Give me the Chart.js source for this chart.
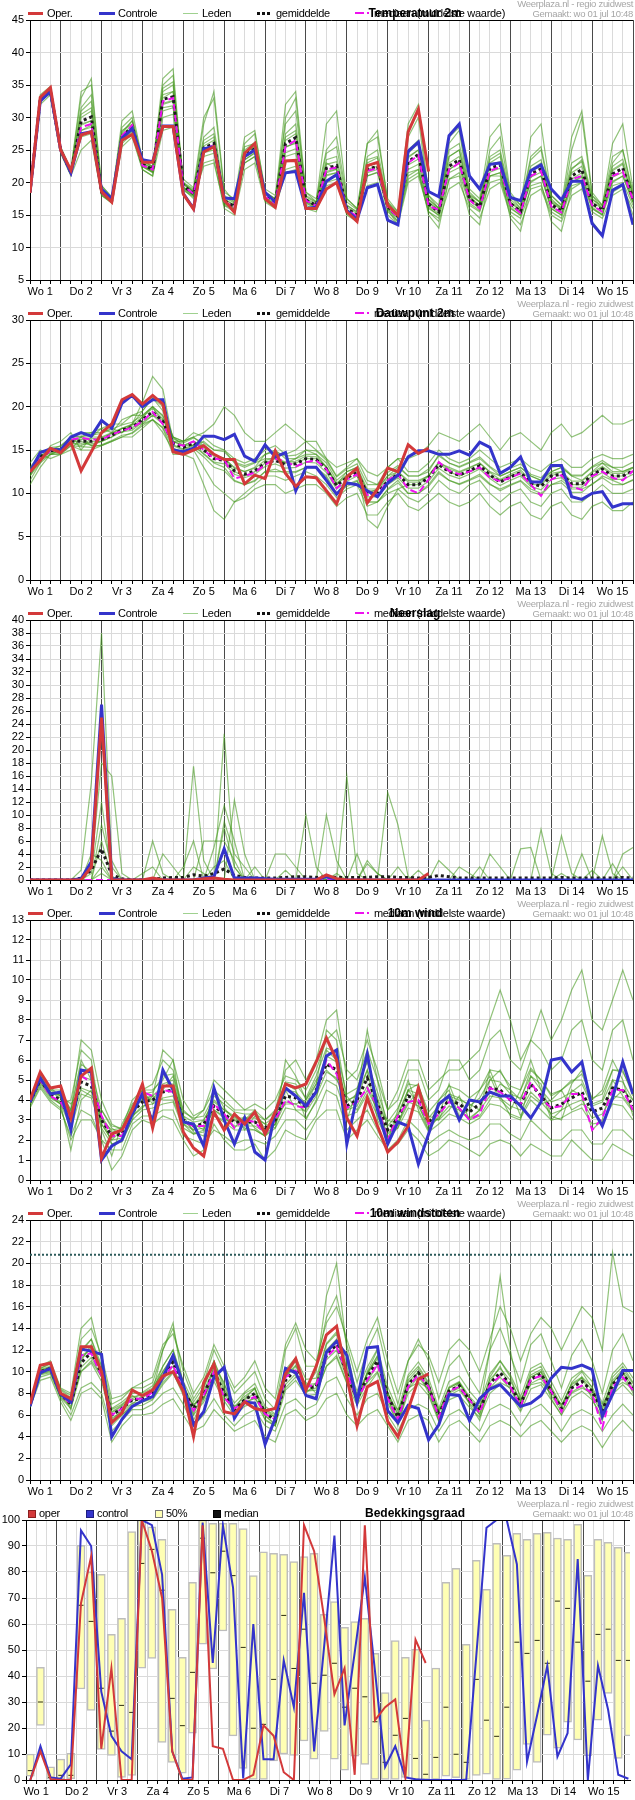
<!DOCTYPE html>
<html>
<head>
<meta charset="utf-8">
<title>Pluim zuidwest</title>
<script src="https://cdn.jsdelivr.net/npm/chart.js@4.4.1/dist/chart.umd.min.js"></script>
<style>
  body { margin: 0; background: #fff; font-family: "Liberation Sans", Arial, sans-serif; }
  .panel { position: relative; width: 635px; height: 300px; overflow: hidden; }
  .panel canvas { position: absolute; left: 0; top: 0; }
  .txt { position: absolute; top: 7px; font-size: 11px; line-height: 12px; letter-spacing: -0.3px; white-space: nowrap; color: #000; }
  .sym { position: absolute; }
  .box { position: absolute; top: 10px; width: 6px; height: 6px; }
  .site { position: absolute; right: 2px; font-size: 9.5px; line-height: 10px; letter-spacing: -0.3px; color: #a6a6a6; white-space: nowrap; }
  .title { position: absolute; top: 7px; left: 415px; transform: translateX(-50%); font-size: 12px; font-weight: bold; line-height: 13px; white-space: nowrap; color: #000; }
</style>
</head>
<body>
<div class="panel" id="p-temp"><canvas id="c-temp" width="635" height="300"></canvas></div>
<div class="panel" id="p-dew"><canvas id="c-dew" width="635" height="300"></canvas></div>
<div class="panel" id="p-precip"><canvas id="c-precip" width="635" height="300"></canvas></div>
<div class="panel" id="p-wind"><canvas id="c-wind" width="635" height="300"></canvas></div>
<div class="panel" id="p-gust"><canvas id="c-gust" width="635" height="300"></canvas></div>
<div class="panel" id="p-cloud"><canvas id="c-cloud" width="635" height="300"></canvas></div>
<script>
// time axis: every 6 hours from wo 1 06:00 to do 16 00:00
const hours = [];
for (let h = 6; h <= 360; h += 6) hours.push(h);

const dayLabels = ['Wo 1', 'Do 2', 'Vr 3', 'Za 4', 'Zo 5', 'Ma 6', 'Di 7', 'Wo 8', 'Do 9', 'Vr 10', 'Za 11', 'Zo 12', 'Ma 13', 'Di 14', 'Wo 15'];

const tempTicks = [5, 10, 15, 20, 25, 30, 35, 40, 45];
const dewTicks = [0, 5, 10, 15, 20, 25, 30];
const precipTicks = [0, 2, 4, 6, 8, 10, 12, 14, 16, 18, 20, 22, 24, 26, 28, 30, 32, 34, 36, 38, 40];
const windTicks = [0, 1, 2, 3, 4, 5, 6, 7, 8, 9, 10, 11, 12, 13];
const gustTicks = [0, 2, 4, 6, 8, 10, 12, 14, 16, 18, 20, 22, 24];
const cloudTicks = [0, 10, 20, 30, 40, 50, 60, 70, 80, 90, 100];

// Temperatuur 2m
const tempOper = [
  18.4, 33.1, 34.6, 25, 21.9, 27.3, 27.8, 18.6, 17, 26.5,
  27.4, 23.1, 23.1, 28.6, 28.6, 18.2, 15.9, 24.7, 25.5, 17.3,
  15.4, 24.5, 26, 17.5, 16.2, 23.3, 23.4, 16, 16, 19,
  20, 15.5, 14, 22.6, 23.1, 16.5, 15, 27.8, 31.3, 21.7];
const tempControl = [
  18.5, 32.5, 34, 25, 21.5, 27.5, 27.8, 19, 17.5, 26.8,
  28.3, 23.5, 23.2, 28.7, 28.7, 18.3, 16, 25.2, 25.5, 17.6,
  17.5, 24, 25, 18.5, 17, 21.5, 21.7, 16, 16.2, 20.2,
  21.2, 15.7, 14.3, 19.2, 19.7, 14.2, 13.5, 24.8, 26.2, 18.6,
  17.8, 27.2, 29, 21, 19, 22.8, 23, 17.7, 17.2, 21.8,
  22.7, 19, 17.3, 20.2, 20.2, 13.7, 11.8, 18.8, 19.7, 13.5];
const tempMean = [
  18.5, 32.8, 34, 25, 21.5, 29.4, 30.1, 18.5, 17.2, 27,
  28.6, 22.8, 22, 32.8, 33.2, 19.5, 18.3, 25.3, 26, 17.2,
  16.3, 24.2, 25.2, 18, 17, 26, 26.9, 17.3, 16.5, 22.2,
  22.6, 16, 15, 22, 22.5, 16.3, 14.8, 23.2, 24.3, 16.7,
  15.5, 22.5, 23.5, 17.5, 16.3, 22.2, 22.7, 16.8, 15.5, 21.3,
  22.1, 16.6, 15.6, 21, 22, 16.8, 15.7, 21.3, 22.2, 17.5];
const tempMedian = [
  18.5, 32.6, 34, 25, 21.4, 28.5, 29, 18.4, 17.2, 27.2,
  28.8, 22.6, 22, 32.5, 33, 19.4, 18.3, 25, 25.8, 17.1,
  16.2, 24, 25, 17.8, 16.8, 25.5, 26.5, 17.2, 16.4, 22,
  22.3, 15.8, 14.8, 21.8, 22.2, 16.2, 14.7, 23, 24.2, 16.4,
  15.8, 22, 23, 17.3, 16, 21.8, 22.4, 16.6, 15.3, 21,
  21.8, 16.3, 15.4, 20.5, 21, 16.5, 15.5, 21, 21.7, 17.3];
const tempMembers = [
  [18.5, 33.5, 34.8, 25.5, 22, 33, 36, 19.5, 17.8, 28.5,
   30, 23.5, 22.5, 36, 37.5, 20, 19, 27, 28.5, 18,
   17, 26, 27.5, 19, 18, 29, 31, 18.5, 17.5, 25,
   27, 17.5, 16, 24, 25, 17, 15.5, 25, 26.5, 18,
   16.5, 25, 26, 18.5, 17, 24, 25, 18, 16.5, 24,
   25.5, 18, 16.5, 23, 24, 18, 16.5, 24, 25, 18.5],
  [18.4, 32, 33.5, 24.5, 21, 25, 26.5, 18, 16.8, 25.5,
   27, 22, 21, 28, 28.5, 19, 17.5, 23, 23.5, 16,
   15, 22, 23, 17, 16, 21.5, 22, 16, 15.5, 19.5,
   20, 15, 14, 19.5, 20, 15, 13.5, 20, 21, 15.5,
   14, 19, 20, 16, 14.5, 19, 20, 15, 13.5, 18,
   19, 15, 14, 18, 19, 15.5, 14.5, 18, 19, 16],
  [18.6, 32.9, 34.2, 25.2, 21.7, 30.5, 31.5, 18.8, 17.5, 27.5,
   29.5, 23, 22.2, 34, 35, 20, 18.5, 29, 34, 19,
   17, 23, 24, 17.5, 16.5, 30, 33, 17.5, 16, 23,
   22, 16.5, 15.5, 26, 28, 17, 15, 21, 22, 16,
   15, 26, 28, 18, 16, 21, 21, 16, 15, 22,
   23, 17, 16, 25, 30, 18, 16, 20, 21, 17],
  [18.5, 32.5, 33.8, 24.8, 21.3, 28, 28.5, 18.2, 17, 26.5,
   28, 22.5, 21.5, 31, 31.5, 19.2, 18, 24, 24.5, 16.5,
   16, 25.5, 26, 18.5, 17.5, 24, 24.5, 17, 16.5, 21,
   21.5, 15.5, 14.5, 23.5, 24, 16, 14, 24, 25, 17,
   15.5, 22, 23, 17.5, 16.5, 23, 24, 17, 15.5, 20,
   21, 16, 15, 20, 21, 16, 15, 22, 23, 17],
  [18.5, 33, 34.3, 25.3, 21.8, 31.5, 33.5, 19, 17.6, 28,
   29, 22.8, 21.8, 35, 36.5, 19.8, 18.6, 26, 27, 17.5,
   16.5, 24.5, 25.5, 18.2, 17.2, 27.5, 29, 18, 17, 24.5,
   25.5, 17, 15.8, 22.5, 23, 16.5, 14.8, 27, 30, 17.5,
   16, 24, 25, 18, 17, 25, 27, 18, 16, 23.5,
   25, 17.5, 16, 22, 23.5, 17.5, 16, 23, 25, 18],
  [18.4, 32.6, 33.7, 24.7, 21.2, 27, 27.5, 18, 16.9, 26,
   27.5, 22, 21, 30, 30.5, 18.8, 17.8, 22.5, 23, 16.5,
   15.5, 23.5, 24.5, 17.5, 16.5, 22, 22.5, 16.5, 15.8, 20,
   20.5, 15.5, 14.5, 21, 21.5, 15.5, 14, 20.5, 21.5, 15.5,
   14.5, 20.5, 21.5, 16.5, 15.5, 20, 20.5, 15.5, 14.5, 19,
   19.5, 15.5, 14.5, 19.5, 20, 16, 15, 19.5, 20, 16.5],
  [18.5, 33.2, 34.5, 25.4, 21.9, 34, 35, 19.5, 17.7, 29.5,
   31, 23.5, 22.3, 33, 34, 20.5, 19.2, 30, 33, 18.5,
   17.5, 27, 28, 18.5, 17.5, 32, 34, 18.5, 17, 29,
   31, 17.5, 16, 26, 27, 17.5, 15.5, 29, 32, 18,
   16, 27, 28.5, 19, 17.5, 27, 29, 18.5, 16.5, 27,
   29, 18, 16.5, 27, 31, 18.5, 16.5, 26, 29, 19],
  [18.5, 32.7, 33.9, 24.9, 21.4, 29, 29.5, 18.4, 17.1, 27,
   28.5, 22.6, 21.6, 32, 32.5, 19.3, 18.1, 25, 25.5, 16.8,
   15.8, 23, 24, 17.2, 16.2, 25.5, 26, 16.8, 16, 21.5,
   22, 15.2, 14.2, 22, 22.5, 15.8, 13.5, 21.5, 22, 15,
   13, 20.5, 21, 15, 13.5, 21, 21.5, 14.5, 12.5, 19.5,
   20, 14, 12.5, 19, 20, 14, 12, 18.5, 19.5, 15],
  [18.5, 32.9, 34.1, 25.1, 21.6, 30, 31, 18.7, 17.3, 27.3,
   28.9, 23, 22.1, 33.5, 34, 19.7, 18.5, 25.6, 26.5, 17.4,
   16.5, 24.5, 25.6, 18.2, 17.2, 26.5, 27.5, 17.5, 16.7, 22.8,
   23.2, 16.2, 15.2, 22.5, 23, 16.5, 15, 23.8, 25, 17,
   15.8, 23, 24, 17.8, 16.5, 22.8, 23.2, 17, 15.8, 21.8,
   22.6, 16.9, 15.8, 21.5, 22.5, 17, 16, 21.8, 22.8, 17.8],
  [18.5, 32.7, 33.9, 24.9, 21.4, 28.8, 29.5, 18.3, 17.1, 26.7,
   28.3, 22.6, 21.8, 32.2, 32.6, 19.3, 18.1, 25, 25.6, 17,
   16.1, 23.9, 24.8, 17.8, 16.8, 25.4, 26.2, 17.1, 16.3, 21.7,
   22.1, 15.8, 14.8, 21.5, 22, 16.1, 14.6, 22.7, 23.6, 16.4,
   15.2, 22, 23, 17.2, 16, 21.6, 22.2, 16.5, 15.2, 20.8,
   21.6, 16.3, 15.3, 20.5, 21.5, 16.5, 15.4, 20.8, 21.6, 17.2],
  [18.6, 33, 34.4, 25.2, 21.7, 31, 32.5, 19, 17.4, 27.8,
   29.5, 23.2, 22.4, 34.5, 35.5, 19.8, 18.8, 26.5, 27.5, 17.8,
   16.8, 25, 26.2, 18.5, 17.4, 27, 28, 17.8, 16.9, 23.5,
   24, 16.5, 15.4, 23, 23.8, 16.8, 15.2, 24.5, 26, 17.3,
   16, 24, 25, 18.2, 17, 23.5, 24.5, 17.4, 16, 22.5,
   23.5, 17.2, 16.2, 22.2, 23.2, 17.4, 16.4, 22.5, 23.6, 18.2],
  [18.4, 32.6, 33.8, 24.8, 21.3, 28, 28.8, 18.2, 17, 26.4,
   27.8, 22.4, 21.6, 31.5, 31.8, 19.1, 17.9, 24.6, 25, 16.8,
   15.9, 23.5, 24.6, 17.6, 16.6, 24.6, 25.2, 16.9, 16.1, 21.2,
   21.5, 15.6, 14.6, 21, 21.6, 15.9, 14.4, 22, 22.8, 16.2,
   14.9, 21.5, 22.3, 16.8, 15.7, 21, 21.5, 16.2, 14.9, 20.2,
   21, 16, 15, 20, 20.8, 16.2, 15.1, 20.2, 21, 16.9]];

// Dauwpunt 2m
const dewOper = [
  12.5, 13.8, 15.2, 14.7, 15.9, 12.6, 14.8, 17, 18, 20.8,
  21.4, 20.3, 21.3, 20.3, 14.8, 14.5, 15, 15.5, 14.5, 13.9,
  13.9, 11.1, 12.1, 11.7, 14.9, 12.3, 10.8, 11.9, 11.8, 10.3,
  8.8, 11.9, 12.9, 8.9, 10.5, 12.9, 12.5, 15.6, 14.6, 15.2];
const dewControl = [
  12.5, 14.7, 15.1, 15, 16.5, 17, 16.6, 18.4, 17.5, 20.4,
  21.3, 20, 20.8, 20.8, 15, 14.8, 15.2, 16.6, 16.6, 16.2,
  16.8, 14.3, 13.7, 15.6, 14.2, 14.7, 10.3, 13, 13, 11.5,
  9.9, 11.2, 11, 10.3, 9.6, 11.2, 12.1, 14.2, 14.9, 14.9,
  14.5, 14.5, 14.9, 14.4, 15.9, 15.3, 12.3, 13, 14.2, 11.3,
  11.3, 13.2, 13.2, 9.6, 9.3, 10, 10.2, 8.4, 8.8, 8.8];
const dewMean = [
  12.5, 14.2, 14.9, 15, 16, 16, 16, 16.2, 16.7, 17.3,
  17.6, 18.5, 19.4, 18.3, 15.8, 15.3, 15.8, 15, 14, 13.8,
  12.6, 12.2, 12.6, 13.5, 13.8, 13.3, 13.4, 14, 13.9, 12.8,
  10.9, 11.8, 12.4, 10, 10, 11.4, 12.2, 11, 11, 11.8,
  13.3, 12.5, 12.1, 12.6, 13.2, 12.1, 11.3, 11.9, 12.4, 11.2,
  10.8, 12, 12.2, 11.1, 11.1, 12.1, 12.8, 12, 12, 12.6];
const dewMedian = [
  12.5, 14, 14.9, 15, 16.2, 16.4, 16.2, 16.2, 16.8, 17.2,
  17.6, 18.3, 19.4, 18, 15.8, 15.5, 16, 15, 14, 13.9,
  11.7, 12, 12.4, 13.3, 14, 13.7, 13.1, 13.6, 13.8, 12.8,
  10.6, 11.6, 12.2, 9.8, 9.8, 11.5, 12.2, 10.5, 10, 11.6,
  13.6, 12.6, 12.2, 12.5, 13, 11.8, 11.4, 11.8, 12.3, 11,
  9.7, 11.6, 12.1, 10.8, 10.4, 12, 12.5, 11.8, 11.5, 12.6];
const dewMembers = [
  [11.5, 13.5, 15.5, 16, 17, 15, 16.5, 17.5, 17, 18.5,
   19, 19.5, 21, 20, 16.5, 16, 17, 16.5, 15.5, 15,
   14, 13.5, 14, 15, 15.5, 14.5, 15, 16, 16, 14,
   12, 13, 14, 11.5, 11, 13, 14, 12.5, 12.5, 13.5,
   15, 14, 13.5, 14, 15, 14, 13, 13.5, 14, 13,
   12.5, 13.5, 14, 13, 13, 14, 14.5, 14, 14, 14.5],
  [13, 14.5, 14, 14.5, 15, 16.5, 15.5, 15.5, 16, 16.5,
   16.5, 17.5, 18.5, 17, 15, 14.5, 14, 11, 8, 7,
   9, 10, 11, 12, 12, 11.5, 12, 12.5, 12, 11,
   9.5, 10.5, 11, 8.5, 9, 10, 10.5, 9.5, 9, 10,
   11.5, 10.5, 10, 11, 11.5, 10, 9, 10, 10.5, 9,
   8.5, 10, 10.5, 9, 9, 10, 11, 10, 10, 10.5],
  [12, 14, 15, 15.5, 16.5, 17, 17, 17.5, 18, 18,
   19, 19, 20, 19, 16, 16, 16.5, 15.5, 14.5, 14,
   13, 12.5, 13, 14.5, 15, 14, 14, 15, 14.5, 13.5,
   11.5, 12.5, 13, 10.5, 10.5, 12, 13, 12, 12, 12.5,
   14.5, 13.5, 13, 13.5, 14, 13, 12, 12.5, 13, 12,
   11.5, 12.5, 13, 12, 11.5, 12.5, 13.5, 13, 12.5, 13],
  [12.5, 14.3, 15, 14.8, 15.8, 15.5, 16, 16, 16.5, 17.5,
   17.5, 18.8, 20, 18, 15.5, 15, 15.5, 14.5, 13.5, 13,
   11.5, 11, 11.5, 12.5, 12.5, 12.5, 12.5, 13, 13, 12,
   10, 11, 11.5, 9, 9, 10.5, 11.5, 10, 10, 11,
   12.5, 11.5, 11, 11.5, 12, 11, 10.5, 11, 11.5, 10.5,
   10, 11, 11.5, 10.5, 10.5, 11, 12, 11.5, 11, 11.5],
  [13.5, 15, 14.5, 15, 16, 16, 15.5, 16, 17, 17,
   18, 18, 19, 18.5, 16.5, 15.5, 15.5, 16, 15, 15,
   13.5, 13, 13.5, 14, 14, 13.5, 14, 14.5, 14.5, 13,
   11, 12.5, 13, 10, 10.5, 12, 12.5, 11.5, 11.5, 12,
   13.5, 13, 12.5, 13, 13.5, 12.5, 12, 12.5, 13, 12,
   11.5, 12.5, 13, 12, 12, 13, 13.5, 12.5, 12.5, 13],
  [12, 13.5, 14.5, 15, 16.5, 16.5, 17, 17, 17.5, 17,
   18, 19.5, 21, 19.5, 16.5, 16, 16.5, 17, 18, 20,
   19, 17, 16, 16, 17, 18, 17, 16, 15, 14,
   13, 13.5, 14, 12.5, 12, 13, 14, 14, 14.5, 15.5,
   17, 16.5, 16, 17, 18, 16.5, 15, 16.5, 17, 16,
   15, 17, 18, 16.5, 17, 18, 19, 18, 18, 18.5],
  [11, 13, 14.5, 14.5, 15.5, 15, 15, 15.5, 16, 16.5,
   17, 18, 18.5, 17.5, 14.5, 14.5, 15, 13, 11, 10,
   9, 9.5, 10.5, 11, 11, 10, 10.5, 11, 11, 10,
   8.5, 9.5, 10, 7.5, 7.5, 9, 10, 8.5, 8, 9,
   10, 9, 8.5, 9, 10, 8.5, 7.5, 8.5, 9, 7.5,
   7, 8.5, 9, 7.5, 7, 8.5, 9, 8, 8, 9],
  [12.5, 14, 15, 15.2, 16, 16.5, 16.5, 16.5, 17, 17.5,
   18, 20.5, 23.5, 22, 16, 15.5, 16, 15.5, 14.5, 14,
   12.5, 12, 12.5, 13.5, 14, 13.5, 13.5, 14, 14, 13,
   11, 12, 12.5, 7, 6, 8.5, 10.5, 11, 11, 12,
   13.5, 12.5, 12, 12.5, 13, 12, 11.5, 12, 12.5, 11,
   11, 12, 12.5, 11, 11, 12, 13, 12, 12, 12.5],
  [12.6, 14.3, 15, 15.1, 16.2, 16.2, 16.3, 16.4, 16.9, 17.5,
   17.9, 18.8, 19.8, 18.6, 16, 15.5, 16, 15.3, 14.3, 14.1,
   12.9, 12.5, 12.9, 13.8, 14.1, 13.6, 13.7, 14.3, 14.2, 13.1,
   11.2, 12.1, 12.7, 10.3, 10.3, 11.7, 12.5, 11.3, 11.3, 12.1,
   13.6, 12.8, 12.4, 12.9, 13.5, 12.4, 11.6, 12.2, 12.7, 11.5,
   11.1, 12.3, 12.5, 11.4, 11.4, 12.4, 13.1, 12.3, 12.3, 12.9],
  [12.4, 14, 14.7, 14.8, 15.8, 15.7, 15.7, 16, 16.5, 17.1,
   17.3, 18.2, 19, 18, 15.6, 15.1, 15.6, 14.6, 13.6, 13.4,
   12.2, 11.8, 12.2, 13.1, 13.4, 12.9, 13, 13.6, 13.5, 12.4,
   10.5, 11.4, 12, 9.6, 9.6, 11, 11.8, 10.6, 10.6, 11.4,
   12.9, 12.1, 11.7, 12.2, 12.8, 11.7, 10.9, 11.5, 12, 10.8,
   10.4, 11.6, 11.8, 10.7, 10.7, 11.7, 12.4, 11.6, 11.6, 12.2],
  [12.8, 14.6, 15.3, 15.4, 16.5, 16.6, 16.7, 16.9, 17.4, 17.9,
   18.2, 19, 20, 18.9, 16.3, 15.8, 16.4, 15.8, 15, 14.8,
   13.6, 13.2, 13.6, 14.5, 14.8, 14.3, 14.4, 15, 14.9, 13.8,
   11.9, 12.8, 13.4, 11, 11, 12.4, 13.2, 12, 12, 12.8,
   14.3, 13.5, 13.1, 13.6, 14.2, 13.1, 12.3, 12.9, 13.4, 12.2,
   11.8, 13, 13.2, 12.1, 12.1, 13.1, 13.8, 13, 13, 13.6],
  [12.2, 13.8, 14.5, 14.6, 15.5, 15.4, 15.3, 15.6, 16.1, 16.7,
   16.9, 17.8, 18.5, 17.6, 15.2, 14.8, 15.2, 14.2, 13, 12.6,
   11.4, 11, 11.4, 12.5, 12.8, 12.3, 12.4, 13, 12.9, 11.8,
   9.9, 10.8, 11.4, 9, 9, 10.4, 11.2, 10, 10, 10.8,
   12.3, 11.5, 11.1, 11.6, 12.2, 11.1, 10.3, 10.9, 11.4, 10.2,
   9.8, 11, 11.2, 10.1, 10.1, 11.1, 11.8, 11, 11, 11.6]];

// Neerslag
const precipOper = [
  0, 0, 0, 0, 0, 0, 2, 25, 0, 0,
  0, 0, 0.3, 0, 0, 0, 0, 0.2, 0.3, 0.1,
  0, 0, 0, 0, 0, 0, 0, 0, 0, 0.8,
  0.2, 0, 0, 0, 0, 0, 0, 0, 0, 1];
const precipControl = [
  0, 0, 0, 0, 0, 0.2, 2.8, 27, 0.2, 0,
  0, 0, 0, 0, 0, 0, 0, 0.3, 0.5, 4.8,
  0.3, 0.3, 0.3, 0.2, 0.1, 0.1, 0.1, 0.1, 0.1, 0.5,
  0.1, 0, 0, 0, 0, 0, 0, 0, 0, 0,
  0, 0, 0, 0, 0, 0, 0, 0, 0, 0,
  0, 0, 0, 0, 0, 0, 0, 0, 0, 0];
const precipMean = [
  0, 0, 0, 0, 0, 0.3, 1.5, 4.8, 0.8, 0.2,
  0, 0, 0.1, 0.3, 0.4, 0.4, 0.8, 0.6, 1, 1.7,
  0.7, 0.4, 0.3, 0.3, 0.3, 0.4, 0.5, 0.5, 0.4, 0.5,
  0.4, 0.4, 0.4, 0.4, 0.5, 0.5, 0.4, 0.4, 0.3, 0.4,
  0.7, 0.5, 0.3, 0.3, 0.3, 0.3, 0.3, 0.3, 0.3, 0.3,
  0.3, 0.3, 0.4, 0.3, 0.3, 0.3, 0.3, 0.3, 0.4, 0.3];
const precipMedian = [
  0, 0, 0, 0, 0, 0, 0, 0, 0, 0,
  0, 0, 0, 0, 0, 0, 0, 0, 0, 0,
  0, 0, 0, 0, 0, 0, 0, 0, 0, 0,
  0, 0, 0, 0, 0, 0, 0, 0, 0, 0,
  0, 0, 0, 0, 0, 0, 0, 0, 0, 0,
  0, 0, 0, 0, 0, 0, 0, 0, 0, 0];
const precipMembers = [
  [0, 0, 0, 0, 0, 1.5, 15, 38, 3, 0,
   0, 0, 0, 0, 0, 0, 2, 1, 0, 0,
   0, 0, 0, 0, 0, 0, 0, 0, 0, 0,
   0, 0, 0, 0, 0, 0, 0, 0, 0, 0,
   0, 0, 0, 0, 0, 0, 0, 0, 0, 0,
   0, 0, 0, 0, 0, 0, 0, 0, 0, 0],
  [0, 0, 0, 0, 0, 0, 2, 18, 16, 1,
   0, 0, 6, 1, 0, 0, 0, 0, 0, 22.5,
   2, 0, 0, 0, 0, 0, 0, 0, 0, 0,
   0, 16, 1, 0, 0, 0, 0, 0, 0, 0,
   0, 0, 0, 0, 0, 0, 0, 0, 0, 0,
   7.8, 1, 0, 0, 0, 0, 0, 0, 0, 0],
  [0, 0, 0, 0, 0, 0, 0, 8.5, 2, 0,
   0, 0, 0, 0, 0, 0, 17.5, 3, 0, 0,
   12.3, 4, 0, 0, 0, 0, 0, 0, 0, 0,
   0, 0, 0, 0, 0, 13.5, 8.5, 0.5, 0, 0,
   0, 0, 0, 0, 0, 0, 0, 0, 0, 0,
   0, 0, 6.8, 1, 0, 0, 0, 0, 0, 0],
  [0, 0, 0, 0, 0, 0, 1, 12, 0.5, 0,
   0, 0, 0, 4, 2, 0, 0, 0, 5, 11.5,
   6, 0, 0, 0, 0, 0, 0, 0, 0, 10,
   3, 0, 0, 0, 0, 0, 0, 0, 0, 0,
   3, 1.5, 0, 0, 0, 0, 0, 0, 0, 0,
   0, 0, 0, 0, 0, 0, 0, 0, 4, 5],
  [0, 0, 0, 0, 0, 0, 0, 6, 0.5, 0,
   0, 0, 0, 0, 0, 2, 6, 0, 0, 9,
   4, 2, 0, 0, 0, 0, 0, 10, 2, 0,
   0, 0, 0, 2.5, 1, 0, 0, 0, 0, 0,
   0, 0, 0, 0, 0, 4, 2, 0, 0, 0,
   0, 0, 0, 0, 0, 0, 6.8, 1, 0, 0],
  [0, 0, 0, 0, 0, 0, 0, 2, 0, 0,
   0, 1, 2, 0, 0, 0, 0, 6, 6, 6,
   3, 0, 0, 0, 4, 4, 2, 0, 0, 0,
   0, 0, 0, 0, 0, 0, 2, 0, 1.5, 0,
   0, 0, 0, 0, 0, 0, 0, 0, 4.8, 5,
   0, 0, 0, 0, 4, 0, 0, 0, 0, 0],
  [0, 0, 0, 0, 0, 0, 0, 1, 0, 0,
   0, 0, 0, 0, 0, 0, 0, 0, 2, 3,
   0, 0, 2, 0, 0, 0, 0, 0, 0, 0,
   1, 0, 4, 0, 0, 0, 0, 0, 0, 0,
   0, 0, 2, 1, 0, 0, 0, 0, 0, 0,
   0, 0, 0, 0, 0, 1.5, 0, 2.5, 0, 0],
  [0, 0, 0, 0, 0, 0, 4, 3, 0, 0,
   0, 0, 0, 0, 0, 0, 0, 0, 0, 8,
   2, 0, 0, 0, 0, 1.5, 0, 0, 0, 0,
   0, 0, 0, 3, 1, 0, 0, 0, 0, 0,
   0, 0, 0, 0, 2, 0, 0, 0, 0, 0,
   0, 0, 1, 0, 0, 0, 0, 0, 2, 0]];

// 10m wind
const windOper = [
  4, 5.4, 4.6, 4.7, 3.1, 5.2, 5.6, 1.1, 2.3, 2.5,
  3.5, 4.8, 2.6, 4.7, 4.7, 2.4, 1.6, 1.2, 3.4, 2.5,
  3.3, 2.8, 3.4, 2.3, 3.4, 4.8, 4.6, 4.8, 5.9, 7.1,
  6, 3.1, 2.2, 4.1, 2.7, 1.4, 1.9, 2.7, 4.6, 2.9];
const windControl = [
  3.9, 5.1, 4.3, 4.4, 2.5, 5.5, 5.4, 1, 1.7, 2,
  3.3, 4.3, 2.9, 5.5, 4.5, 2.9, 2.8, 1.7, 4.6, 3,
  1.8, 3.1, 1.4, 1, 3.4, 4.6, 4.2, 3.7, 4.4, 6.2,
  6.5, 1.8, 4.2, 6.3, 3.5, 1.8, 2.9, 2.7, 0.8, 2.3,
  3.8, 4.2, 3, 4, 3.9, 4.4, 4.2, 4.2, 3.7, 3.1,
  3.9, 6, 6.1, 5.4, 5.9, 3.6, 2.7, 4.1, 5.9, 4.3];
const windMean = [
  3.9, 5, 4.3, 4, 3, 4.9, 4.7, 3, 2.2, 2.3,
  3.4, 3.9, 4, 4.4, 4.5, 3, 2.7, 2.8, 3.7, 3.3,
  2.9, 2.9, 2.9, 2.6, 3, 4.2, 4.1, 3.6, 4.5, 5.8,
  5.5, 3.7, 4, 5.1, 3.8, 2.5, 3.1, 4.2, 4, 2.9,
  3.4, 4, 3.8, 3.4, 3.8, 4.6, 4.5, 4, 3.8, 4.8,
  4.2, 3.6, 3.8, 4.1, 4.4, 3.4, 3.6, 4.6, 4.5, 3.7];
const windMedian = [
  3.9, 5, 4.2, 3.9, 3, 5.2, 4.9, 3.2, 2.2, 2.2,
  3.5, 4.4, 4.2, 4.5, 4.4, 2.9, 2.7, 2.7, 3.8, 3.3,
  2.6, 3, 2.9, 2.3, 3, 4, 3.7, 3.6, 4.4, 6,
  5.3, 3.6, 3.9, 4.6, 3.7, 2, 3.2, 3.9, 4, 2.8,
  3.3, 3.9, 3.6, 3, 3.3, 4.6, 4.4, 4, 3.8, 4.9,
  4.1, 3.6, 3.7, 4.3, 4.3, 2.5, 3.1, 4.5, 4.5, 3.5];
const windMembers = [
  [4, 5.3, 4.5, 4.5, 3.5, 7, 6.5, 4, 2.8, 2.5,
   3.5, 4.5, 4.8, 6, 5.5, 3.5, 3, 3.5, 5, 4.5,
   4, 3.5, 3.5, 3, 3.5, 5.5, 6, 5, 6, 8,
   8.5, 5, 5.5, 7, 5.5, 3.5, 4, 5.5, 5.5, 4,
   4.5, 6, 6, 5, 5.5, 7, 7.5, 6, 5.5, 7,
   6.5, 5.5, 6, 7.5, 8, 6, 5.5, 7.5, 8, 6],
  [3.7, 4.7, 4, 3.6, 2, 3, 3, 2, 1.5, 1.5,
   2.8, 3.2, 3.2, 3.5, 3.5, 2.2, 2, 1.8, 2.5, 2.2,
   1.8, 2, 2, 1.8, 2.2, 3, 3, 2.5, 3.2, 4.5,
   4.2, 2.5, 3, 3.5, 2.5, 1.5, 2, 3, 2.5, 1.8,
   2.2, 2.5, 2.2, 2, 2.2, 2.8, 2.8, 2.3, 2, 3,
   2.5, 2, 2, 2.5, 2.5, 1.8, 1.8, 2.5, 2.5, 2],
  [3.9, 5.1, 4.4, 4.2, 2.5, 5.5, 5.5, 2.5, 1.2, 2.8,
   3.8, 4.2, 4, 4.8, 5, 3, 2.5, 3, 4, 3.5,
   3.2, 2.5, 3.2, 2.8, 2.6, 4.8, 4.5, 3, 4, 6.5,
   6, 3, 4.5, 6, 4, 2, 3.5, 5, 3.5, 2.5,
   4, 4.5, 3.2, 3.5, 4.5, 5.2, 4, 3.5, 4.5, 6,
   4.5, 3, 3.5, 4.8, 5.5, 4, 4.5, 6, 5, 3.2],
  [4.1, 5.2, 4.6, 4.2, 3.8, 4.5, 4.2, 3.5, 2.6, 2.2,
   3.2, 3.6, 4.2, 4, 4, 2.8, 2.8, 2.5, 3.5, 3.2,
   2.6, 3.2, 2.6, 2.2, 3.2, 3.8, 3.8, 4, 5, 5.5,
   5, 4.2, 3.5, 4.5, 3.5, 3, 2.8, 3.8, 4.5, 3.2,
   3, 3.5, 4.2, 3, 3.2, 4, 4.8, 4.5, 3.2, 4.2,
   3.8, 4, 4.5, 3.5, 3.8, 3.5, 2.8, 4, 4.5, 4],
  [3.8, 4.9, 4.2, 3.8, 1.5, 4, 4.5, 3.2, 1.8, 2,
   3, 4.5, 3.8, 4.5, 5.2, 3.2, 2.4, 2.2, 3.2, 3,
   3, 3, 3.5, 2.5, 2.8, 4.5, 3.5, 3.5, 4.5, 6.2,
   6.5, 3.5, 4, 5.5, 3, 2, 3.2, 4.5, 3.8, 2.5,
   3.2, 4.8, 3.5, 3, 3.5, 5.5, 4.2, 3.2, 3, 5.2,
   4.8, 3.2, 3, 4.5, 4.2, 2.5, 3, 5, 4.2, 3.5],
  [4, 5, 4.3, 4.3, 3.5, 6, 5, 3, 2.5, 2.6,
   4, 4.5, 4.5, 5, 6, 4, 3.2, 3.5, 4.5, 4,
   3.5, 3.5, 3.8, 3.5, 4, 5.2, 5, 4.5, 5.5, 7,
   7.5, 5.5, 5, 6.5, 5, 3.5, 4.5, 6, 6, 4.5,
   5, 5.5, 5.5, 6, 6.5, 8, 9.5, 8, 6, 7,
   8.5, 7, 8, 9.5, 10.5, 8, 7.5, 9, 10.5, 9],
  [3.6, 4.6, 3.9, 3.5, 2.2, 3.5, 3.2, 2, 0.5, 1.2,
   2.5, 3, 2.8, 3.2, 3, 2, 1.2, 1.5, 2.8, 2,
   1.5, 1.5, 1.8, 1, 1.5, 2.5, 2.2, 2, 3, 3.5,
   3.5, 2, 2.5, 3, 2.2, 1.5, 1.8, 2.5, 2, 1.2,
   1.5, 2, 1.8, 1.5, 1.2, 1.8, 2, 1.8, 1.2, 1.8,
   1.5, 1.2, 1.2, 2, 1.5, 1, 1, 1.8, 1.5, 1.2],
  [3.9, 5.2, 4.2, 3.8, 4, 6.5, 6, 2.8, 2, 2.5,
   3.6, 4, 4.2, 6.5, 6, 2.8, 2.3, 2.5, 4.5, 3.6,
   3, 2.6, 2.5, 2.2, 2.8, 6, 5.2, 4, 4.8, 7.5,
   7, 4, 4.2, 7.5, 5, 2.5, 2.6, 4.5, 4.8, 3,
   3, 4.2, 4, 3.8, 3.5, 5, 5.5, 4.5, 4, 5.5,
   5, 4.2, 4.5, 5, 5, 3.8, 4, 5.5, 5.5, 4.2],
  [3.9, 5.1, 4.4, 4.1, 3.2, 5.2, 5, 3.2, 2.4, 2.5,
   3.6, 4.1, 4.2, 4.7, 4.8, 3.2, 2.9, 3, 3.9, 3.5,
   3.1, 3.1, 3.1, 2.8, 3.2, 4.5, 4.4, 3.8, 4.8, 6.2,
   5.9, 3.9, 4.3, 5.5, 4.1, 2.7, 3.3, 4.5, 4.3, 3.1,
   3.7, 4.3, 4.1, 3.7, 4.1, 5, 4.9, 4.3, 4.1, 5.2,
   4.5, 3.9, 4.1, 4.4, 4.8, 3.7, 3.9, 5, 4.9, 4],
  [3.8, 4.9, 4.2, 3.9, 2.8, 4.6, 4.4, 2.8, 2, 2.1,
   3.2, 3.7, 3.8, 4.1, 4.2, 2.8, 2.5, 2.6, 3.5, 3.1,
   2.7, 2.7, 2.7, 2.4, 2.8, 3.9, 3.8, 3.4, 4.2, 5.4,
   5.1, 3.5, 3.7, 4.7, 3.5, 2.3, 2.9, 3.9, 3.7, 2.7,
   3.1, 3.7, 3.5, 3.1, 3.5, 4.2, 4.1, 3.7, 3.5, 4.4,
   3.9, 3.3, 3.5, 3.8, 4, 3.1, 3.3, 4.2, 4.1, 3.4],
  [4, 5.1, 4.5, 4.2, 3.4, 5.8, 5.4, 3.5, 2.7, 2.6,
   3.7, 4.3, 4.4, 5.2, 5.3, 3.4, 3.1, 3.2, 4.2, 3.8,
   3.4, 3.3, 3.3, 3, 3.4, 4.9, 4.8, 4.1, 5.2, 6.6,
   6.4, 4.3, 4.6, 5.9, 4.4, 2.9, 3.6, 4.8, 4.7, 3.4,
   4, 4.7, 4.5, 4.1, 4.5, 5.5, 5.4, 4.7, 4.5, 5.6,
   5, 4.3, 4.5, 4.9, 5.3, 4.1, 4.3, 5.5, 5.4, 4.4],
  [3.8, 4.8, 4.1, 3.8, 2.6, 4.3, 4.1, 2.6, 1.8, 1.9,
   3, 3.5, 3.6, 3.8, 3.9, 2.6, 2.3, 2.4, 3.2, 2.9,
   2.5, 2.5, 2.5, 2.2, 2.6, 3.6, 3.5, 3.1, 3.9, 5,
   4.7, 3.2, 3.4, 4.3, 3.2, 2.1, 2.6, 3.6, 3.4, 2.4,
   2.8, 3.3, 3.1, 2.8, 3.1, 3.8, 3.7, 3.3, 3.1, 4,
   3.5, 3, 3.1, 3.4, 3.6, 2.8, 2.9, 3.8, 3.7, 3]];

// 10m windstoten
const gustLimit = 20.8;
const gustOper = [
  7, 10.6, 10.8, 8, 7.5, 12.3, 12.3, 10, 5.3, 6.2,
  8.3, 7.8, 8.3, 9.6, 10, 8.2, 4, 9, 10.7, 6.3,
  6.1, 7.2, 6.6, 6.4, 6.6, 9.8, 11.2, 8.3, 10.5, 13.4,
  14.2, 9.5, 5, 8.6, 9.1, 5.4, 4, 6.5, 9.3, 9.8];
const gustControl = [
  6.8, 9.9, 10.3, 7.9, 7.2, 12.1, 11.9, 11.6, 4, 5.6,
  6.8, 7.3, 7.7, 9.5, 11.5, 8.8, 5.1, 6.3, 9.5, 10.4,
  5.7, 7.2, 7.1, 3.3, 5.7, 10.3, 9.9, 7.8, 7.5, 11.8,
  12.8, 11.5, 7.2, 12.2, 12.3, 6.4, 5.3, 6.9, 6.6, 3.7,
  5.1, 7.9, 7.8, 5.5, 7.5, 8.4, 8.8, 7.8, 6.8, 7.1,
  7.8, 9.4, 10.4, 10.3, 10.6, 10.2, 5.9, 7.9, 10.1, 10.1];
const gustMean = [
  6.9, 10, 10.3, 7.9, 7, 10.8, 11.8, 9.8, 6, 6.6,
  7.4, 7.5, 8, 9.6, 10.9, 8.4, 6.6, 7.9, 10, 8,
  6.5, 7.4, 8, 6.2, 5.5, 9.2, 10.2, 8.5, 8.6, 11.5,
  12.5, 9.8, 7.5, 9.5, 11, 7.8, 5.8, 8.8, 9.9, 8.6,
  6, 8.2, 8.7, 7.4, 6.4, 8.9, 9.9, 8.8, 7, 9.3,
  9.8, 8.2, 6.6, 8.5, 9.1, 8.2, 6.4, 8.8, 9.8, 8.5];
const gustMedian = [
  6.9, 10, 10.2, 7.9, 7, 11.5, 11.7, 9.6, 6, 6.6,
  7.5, 7.5, 8.1, 9.4, 10.6, 8.2, 6.4, 7.8, 10, 7.6,
  6.6, 7.2, 7.7, 6.1, 5.6, 9.5, 10.1, 8.6, 8.8, 11.3,
  12.3, 9.9, 7.4, 9.2, 10.7, 7.5, 5.6, 8.6, 9.7, 8.6,
  5.8, 8.2, 8.6, 7.4, 6.2, 8.8, 9.6, 8.6, 6.8, 9.3,
  9.6, 8.2, 6.3, 8.3, 8.7, 8, 4.8, 8.6, 9.5, 8.3];
const gustMembers = [
  [7, 10.5, 11, 8.5, 8, 14, 15, 11, 7, 7.5,
   8.5, 8.5, 9, 12, 14, 10, 7.5, 9, 12, 10,
   8, 9, 10, 7.5, 6.5, 12, 14, 10.5, 10.5, 15,
   17, 12.5, 9, 12, 14, 10, 7, 11, 13, 11,
   7.5, 10.5, 11.5, 9.5, 8, 12, 14, 11.5, 9, 12.5,
   13.5, 11, 8.5, 11.5, 13, 11, 8, 12, 13.5, 11],
  [6.8, 9.5, 9.8, 7.5, 6, 8.5, 9, 8, 4.5, 5.5,
   6.5, 6.5, 7, 8, 8.5, 7, 5, 6, 7.5, 6,
   5, 6, 6.5, 5, 4.5, 7, 7.5, 6.5, 7, 9,
   9.5, 7.5, 6, 7.5, 8, 6, 4.5, 6.5, 7, 6.5,
   4.5, 6, 6.5, 5.5, 4.5, 6.5, 7, 6.5, 5, 6.5,
   7, 6, 4.5, 6, 6.5, 6, 4.5, 6, 7, 6],
  [6.9, 10.2, 10.5, 8, 7.5, 12, 13, 10, 5.5, 6.5,
   7.5, 8, 8.5, 10, 11.5, 9, 6, 8.5, 11, 8.5,
   6.5, 8, 8.5, 6, 5, 10, 11, 8, 9, 12.5,
   13.5, 10, 7, 10, 12, 8, 5.5, 9.5, 10.5, 9,
   5.5, 8.5, 9, 7.5, 6, 9.5, 11, 9.5, 7, 10,
   10.5, 8.5, 6.5, 9, 10, 8.5, 6, 9.5, 10.5, 9],
  [7, 9.8, 10, 7.8, 7.2, 10, 11, 9.5, 6.5, 7,
   7.8, 7.2, 7.5, 9, 10, 8, 7, 7.5, 9.5, 7.5,
   6.8, 7.2, 7.5, 6.5, 6, 8.5, 9.5, 9, 8, 10.5,
   11.5, 9, 8, 9, 10, 7.5, 6.5, 8.5, 9, 8.5,
   6.5, 8, 8.5, 7.2, 6.8, 8.5, 9, 8.5, 7.5, 8.8,
   9, 8, 7, 8, 8.5, 8, 7, 8.5, 9, 8.5],
  [6.8, 10.1, 10.4, 8.2, 6.5, 11, 12.5, 10.5, 5, 6,
   7, 7.8, 8.2, 10.5, 12, 8.8, 5.5, 7.5, 10.5, 9,
   6, 7.5, 8.5, 5.5, 5, 9.5, 11, 8.2, 8.5, 12,
   13, 10.5, 7, 9.8, 11.5, 7.5, 5, 8.5, 10, 8,
   5.5, 8, 9, 7, 5.5, 9, 10.5, 8.5, 6.5, 9.5,
   10, 7.5, 6, 8.5, 9.5, 7.5, 5.5, 9, 10, 8],
  [7, 10.3, 10.8, 8.4, 7.8, 13, 14, 11.5, 7.5, 7.8,
   8.5, 9, 9.5, 12.5, 13.5, 10.5, 8, 9.5, 12.5, 10.5,
   8.5, 9.5, 11, 8.5, 7.5, 12.5, 14.5, 12, 11, 14.5,
   16, 13, 10, 13, 15, 11, 8, 11, 12.5, 11.5,
   9, 12, 13, 12, 10, 13, 16, 14, 11, 13.5,
   15, 14, 12, 14, 16, 15, 12, 21, 16, 15.5],
  [6.7, 9.2, 9.5, 7.2, 5.5, 8, 8.5, 7.5, 3.5, 5,
   6, 6, 6.2, 7, 7.5, 6, 4.5, 5, 6.5, 5.5,
   4.5, 5, 5.5, 4, 3.5, 6, 6.5, 5.5, 6, 7.5,
   8, 6, 5, 6, 6.5, 5, 3.5, 5.5, 6, 5.5,
   3.5, 5, 5.5, 4.5, 3.5, 5, 5.5, 5, 4, 5,
   5.5, 4.5, 3.5, 4.5, 5, 4.5, 3, 4.5, 5.5, 4.5],
  [6.9, 10, 10.2, 7.8, 7.4, 11.5, 12, 9.8, 6.2, 6.8,
   7.4, 7.6, 8.2, 12, 14.5, 8.5, 6.8, 8, 10, 8,
   6.6, 7.4, 8, 6.3, 5.8, 9.5, 10.5, 8.6, 10, 17,
   20, 12, 7.6, 9.8, 11.2, 8, 6, 9, 10, 8.7,
   6.2, 8.5, 9, 7.5, 6.5, 12, 18.8, 12, 7.2, 9.5,
   10, 8.3, 6.8, 8.8, 9.4, 8.3, 6.5, 9, 10, 8.6],
  [6.9, 10.1, 10.4, 8.1, 7.2, 11.2, 12.2, 10.1, 6.3, 6.9,
   7.7, 7.8, 8.3, 10, 11.3, 8.7, 6.9, 8.2, 10.4, 8.3,
   6.8, 7.7, 8.4, 6.5, 5.8, 9.6, 10.6, 8.8, 8.9, 11.9,
   12.9, 10.2, 7.8, 9.9, 11.4, 8.1, 6.1, 9.2, 10.3, 8.9,
   6.3, 8.6, 9.1, 7.7, 6.7, 9.3, 10.3, 9.2, 7.3, 9.7,
   10.2, 8.6, 6.9, 8.9, 9.5, 8.6, 6.7, 9.2, 10.2, 8.9],
  [6.8, 9.8, 10.1, 7.7, 6.8, 10.4, 11.3, 9.5, 5.7, 6.3,
   7.1, 7.2, 7.7, 9.2, 10.5, 8.1, 6.3, 7.6, 9.6, 7.7,
   6.2, 7.1, 7.6, 5.9, 5.2, 8.8, 9.8, 8.2, 8.3, 11.1,
   12, 9.4, 7.2, 9.1, 10.6, 7.5, 5.5, 8.4, 9.5, 8.3,
   5.7, 7.8, 8.3, 7.1, 6.1, 8.5, 9.5, 8.4, 6.7, 8.9,
   9.4, 7.8, 6.3, 8.1, 8.7, 7.8, 6.1, 8.4, 9.4, 8.2],
  [7, 10.3, 10.7, 8.3, 7.6, 11.8, 13, 10.6, 6.6, 7.2,
   8, 8.1, 8.7, 10.5, 12, 9.1, 7.2, 8.6, 11, 8.8,
   7.1, 8.1, 8.9, 6.8, 6.1, 10.2, 11.3, 9.3, 9.4, 12.6,
   13.7, 10.8, 8.2, 10.4, 12.1, 8.6, 6.4, 9.7, 10.9, 9.4,
   6.6, 9.1, 9.6, 8.2, 7.1, 9.8, 11, 9.7, 7.7, 10.3,
   10.8, 9.1, 7.3, 9.4, 10.1, 9.1, 7.1, 9.8, 10.8, 9.4],
  [6.8, 9.7, 9.9, 7.6, 6.6, 10, 10.8, 9.1, 5.4, 6,
   6.8, 6.9, 7.4, 8.8, 9.9, 7.8, 6, 7.2, 9.1, 7.3,
   5.9, 6.8, 7.2, 5.6, 5, 8.3, 9.2, 7.8, 7.9, 10.5,
   11.3, 8.9, 6.9, 8.6, 9.9, 7.1, 5.2, 8, 8.9, 7.8,
   5.4, 7.4, 7.8, 6.7, 5.8, 8, 8.8, 7.9, 6.3, 8.4,
   8.8, 7.4, 6, 7.6, 8.2, 7.4, 5.8, 7.9, 8.8, 7.8]];

// Bedekkingsgraad (%)
const cloudOper = [
  0, 11, 0.3, 0, 0, 68, 86, 12, 43, 0,
  0, 100, 88, 70, 11, 0, 0, 98, 13, 12,
  0, 0, 2, 21, 17, 3, 0, 98, 88, 62,
  33, 43, 2, 98, 23, 28, 31, 1, 54, 45];
const cloudControl = [
  0, 13, 1, 0.5, 6, 96, 90, 34, 17, 11,
  8, 100, 98, 79, 11, 0.5, 1, 99, 45, 98,
  74, 0.6, 60, 8, 8, 46, 28, 72, 11, 52,
  94, 21, 49, 78, 42, 5, 13, 1, 0.3, 0,
  0, 0, 0, 0, 48, 97, 100, 100, 83, 7,
  25, 44, 9, 18, 85, 0, 44, 27, 2, 0.5];
const cloudLow = [
  1.5, 21, 0.3, 0.3, 0.5, 35, 26.8, 11.8, 9.5, 1,
  1.8, 43, 46.8, 14.5, 6.8, 2.6, 18, 52.2, 42.7, 57.3,
  17, 4.5, 0, 0, 7.3, 10, 9.5, 15, 8, 18.7,
  8, 3.8, 9.2, 6, 0, 0, 0, 1, 0, 0,
  0, 1.5, 0.9, 0, 1.8, 2.2, 0, 0.3, 3.8, 13.7,
  6.8, 17.2, 12.2, 22.2, 15.4, 9.4, 23, 33.3, 8.3, 17];
const cloudHigh = [
  10, 43.3, 5.1, 8, 10.3, 90.3, 80, 79.1, 56, 62.2,
  95.5, 100, 97.4, 92.6, 65.6, 47.2, 76, 100, 98.7, 98.7,
  98.7, 96.7, 78.6, 87.8, 87.2, 86.8, 84, 85.9, 87.2, 63.7,
  68.6, 58.7, 60.9, 62.2, 48.7, 33.6, 53.6, 47.2, 50.3, 23,
  43, 76, 81.4, 52.2, 84.5, 73.3, 91, 86.4, 94.9, 92.6,
  94.9, 95.3, 93, 92.6, 98.3, 78.7, 92.6, 91.4, 89.5, 87.6];
const cloudMedian = [
  3.6, 30, 1, 1.8, 1.8, 67.2, 61, 35.3, 18.8, 28.7,
  26, 83.3, 88.7, 73, 31.4, 20.9, 41.4, 93, 79.7, 88,
  78.6, 51, 19.9, 21.4, 38.7, 63.3, 42.9, 58, 37.2, 40.3,
  44.9, 28, 35.3, 32, 22.4, 6.8, 17.2, 23.7, 8.3, 2.2,
  8.7, 28, 9.9, 6.8, 38.7, 23, 16.8, 28, 53, 48.7,
  53.7, 44.9, 68.8, 66, 53, 38, 56, 58, 46, 46];

// ---- styling ----
const FONT = '"Liberation Sans", Arial, sans-serif';
const RED = '#d3393a';
const BLUE = '#3434cb';
const MAGENTA = '#ee11ee';
const MEAN = '#1c1c1c';
const MEMBER = 'rgba(66,152,26,0.58)';
const GRID = '#dadada';
const DAYLINE = '#4a4a4a';
const BAR_SHIFT = 2.55; // cloud boxes sit in the middle of their 6h slot

Chart.defaults.font.family = FONT;

function series(values, shift) {
  return values.map((v, i) => ({ x: hours[i] + (shift || 0), y: v }));
}

const topFrame = {
  id: 'topFrame',
  afterDraw(chart) {
    const { ctx, chartArea } = chart;
    ctx.save();
    ctx.strokeStyle = '#000';
    ctx.lineWidth = 1;
    ctx.beginPath();
    ctx.moveTo(chartArea.left, chartArea.top + 0.5);
    ctx.lineTo(chartArea.right, chartArea.top + 0.5);
    ctx.stroke();
    ctx.restore();
  }
};

function xScale(min, max) {
  return {
    type: 'linear', min: min, max: max, offset: false,
    afterBuildTicks: s => { s.ticks = hours.filter(h => h >= min && h <= max).map(h => ({ value: h })); },
    afterFit: s => { s.height = 20; },
    ticks: {
      autoSkip: false, maxRotation: 0, minRotation: 0, padding: 1, color: '#000',
      font: { family: FONT, size: 11 },
      callback: v => (v % 24 === 12 ? dayLabels[(v - 12) / 24] : '')
    },
    grid: {
      offset: false, lineWidth: 1, tickColor: '#000', tickLength: 4,
      color: c => (c.tick && c.tick.value % 24 === 0 ? DAYLINE : GRID)
    },
    border: { color: '#000', width: 1 }
  };
}

function yScale(tickValues, width) {
  return {
    min: tickValues[0], max: tickValues[tickValues.length - 1],
    afterBuildTicks: s => { s.ticks = tickValues.map(v => ({ value: v })); },
    afterFit: s => { s.width = width; },
    ticks: { autoSkip: false, padding: 2, color: '#000', font: { family: FONT, size: 11 } },
    grid: { color: GRID, tickColor: '#000', tickLength: 4 },
    border: { color: '#000', width: 1 }
  };
}

function baseOptions(x, y, rightPad) {
  return {
    responsive: false,
    animation: false,
    devicePixelRatio: 1,
    events: [],
    layout: { padding: { top: 20, right: rightPad, left: 0, bottom: 0 } },
    elements: { point: { radius: 0 }, line: { tension: 0 } },
    plugins: { legend: { display: false }, tooltip: { enabled: false } },
    scales: { x: x, y: y }
  };
}

function ensembleChart(id, d) {
  const datasets = [
    { data: series(d.oper), borderColor: RED, borderWidth: 3 },
    { data: series(d.control), borderColor: BLUE, borderWidth: 3 },
    { data: series(d.median), borderColor: MAGENTA, borderWidth: 2, borderDash: [7, 4] },
    { data: series(d.mean), borderColor: MEAN, borderWidth: 3, borderDash: [3, 3] }
  ];
  if (d.limit !== undefined) {
    datasets.push({ data: [{ x: 6, y: d.limit }, { x: 360, y: d.limit }], borderColor: '#2b5a5a', borderWidth: 2, borderDash: [2, 2] });
  }
  d.members.forEach(m => datasets.push({ data: series(m), borderColor: MEMBER, borderWidth: 1.2 }));
  new Chart(document.getElementById(id), {
    type: 'line',
    data: { datasets: datasets },
    options: baseOptions(xScale(6, 360), yScale(d.ticks, 30), 2),
    plugins: [topFrame]
  });
}

// ---- headers / legends ----
const lineLegend =
  '<div class="sym" style="left:28px;top:12px;width:15px;height:3px;background:' + RED + '"></div>' +
  '<div class="txt" style="left:47px">Oper.</div>' +
  '<div class="sym" style="left:99px;top:12px;width:16px;height:3px;background:' + BLUE + '"></div>' +
  '<div class="txt" style="left:118px">Controle</div>' +
  '<div class="sym" style="left:183px;top:13px;width:15px;height:1px;background:#9fd18f"></div>' +
  '<div class="txt" style="left:202px">Leden</div>' +
  '<div class="sym" style="left:257px;top:12px;width:14px;height:3px;background:repeating-linear-gradient(90deg,#111 0 3px,transparent 3px 5px)"></div>' +
  '<div class="txt" style="left:276px">gemiddelde</div>' +
  '<div class="sym" style="left:355px;top:12px;width:15px;height:2px;background:linear-gradient(90deg,' + MAGENTA + ' 0 9px,transparent 9px 12px,' + MAGENTA + ' 12px 14px,transparent 14px)"></div>' +
  '<div class="txt" style="left:374px">mediaan (middelste waarde)</div>';

const cloudLegend =
  '<div class="box" style="left:28px;background:' + RED + ';border:1px solid #8a1f1f"></div>' +
  '<div class="txt" style="left:39px">oper</div>' +
  '<div class="box" style="left:86px;background:' + BLUE + ';border:1px solid #1d1d80"></div>' +
  '<div class="txt" style="left:97px">control</div>' +
  '<div class="box" style="left:155px;background:#ffffb4;border:1px solid #777"></div>' +
  '<div class="txt" style="left:166px">50%</div>' +
  '<div class="box" style="left:213px;background:#111;border:1px solid #000"></div>' +
  '<div class="txt" style="left:224px">median</div>';

function addHeader(panelId, title, legendHtml) {
  document.getElementById(panelId).insertAdjacentHTML('beforeend',
    legendHtml +
    '<div class="site" style="top:-1px">Weerplaza.nl - regio zuidwest</div>' +
    '<div class="site" style="top:9px">Gemaakt: wo 01 jul 10:48</div>' +
    '<div class="title">' + title + '</div>');
}

addHeader('p-temp', 'Temperatuur 2m', lineLegend);
addHeader('p-dew', 'Dauwpunt 2m', lineLegend);
addHeader('p-precip', 'Neerslag', lineLegend);
addHeader('p-wind', '10m wind', lineLegend);
addHeader('p-gust', '10m windstoten', lineLegend);
addHeader('p-cloud', 'Bedekkingsgraad', cloudLegend);

// ---- charts ----
ensembleChart('c-temp', { oper: tempOper, control: tempControl, mean: tempMean, median: tempMedian, members: tempMembers, ticks: tempTicks });
ensembleChart('c-dew', { oper: dewOper, control: dewControl, mean: dewMean, median: dewMedian, members: dewMembers, ticks: dewTicks });
ensembleChart('c-precip', { oper: precipOper, control: precipControl, mean: precipMean, median: precipMedian, members: precipMembers, ticks: precipTicks });
ensembleChart('c-wind', { oper: windOper, control: windControl, mean: windMean, median: windMedian, members: windMembers, ticks: windTicks });
ensembleChart('c-gust', { oper: gustOper, control: gustControl, mean: gustMean, median: gustMedian, members: gustMembers, ticks: gustTicks, limit: gustLimit });

new Chart(document.getElementById('c-cloud'), {
  type: 'bar',
  data: {
    datasets: [
      { type: 'line', data: series(cloudOper, BAR_SHIFT), borderColor: RED, borderWidth: 2 },
      { type: 'line', data: series(cloudControl, BAR_SHIFT), borderColor: BLUE, borderWidth: 2 },
      { type: 'line', data: series(cloudMedian, BAR_SHIFT), showLine: false, pointStyle: 'line',
        pointRadius: 2.5, pointBorderColor: '#2a2a10', pointBorderWidth: 1, borderColor: '#2a2a10' },
      { type: 'bar', data: cloudLow.map((lo, i) => ({ x: hours[i] + BAR_SHIFT, y: [lo, cloudHigh[i]] })),
        backgroundColor: '#ffffb4', borderColor: '#bdbdbd', borderWidth: 1.5, borderSkipped: false, barThickness: 8 }
    ]
  },
  options: baseOptions(xScale(6, 363.5), yScale(cloudTicks, 26), 0),
  plugins: [topFrame]
});
</script>
</body>
</html>
